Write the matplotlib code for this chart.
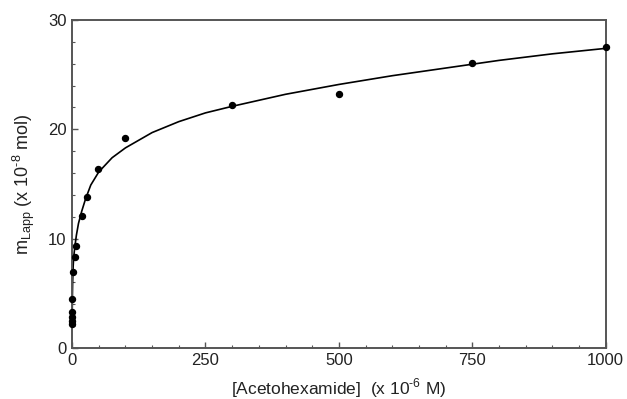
"""
Apparent bound amount vs acetohexamide concentration.
"""
import matplotlib
matplotlib.use('Agg')
import matplotlib.pyplot as plt
from matplotlib.ticker import MultipleLocator

plt.rcParams['font.family'] = ['Liberation Sans', 'DejaVu Sans']
plt.rcParams['mathtext.fontset'] = 'custom'
plt.rcParams['mathtext.rm'] = 'Liberation Sans'

# measured points (x 10^-6 M, x 10^-8 mol)
conc = [0.01, 0.05, 0.1, 0.25, 0.5, 2.5, 5, 8, 18, 27, 49, 100, 300, 500, 750, 1000]
m_lapp = [2.2, 2.5, 2.8, 3.3, 4.5, 6.9, 8.3, 9.3, 12.1, 13.8, 16.4, 19.2, 22.2, 23.2, 26.1, 27.5]

# fitted curve
fit_x = [0, 0.5, 1, 2, 3, 5, 8, 12, 18, 25, 35, 50, 75, 100, 150, 200, 250, 300,
         400, 500, 600, 700, 800, 900, 1000]
fit_y = [2.0, 4.6, 6.0, 7.5, 8.3, 9.2, 10.3, 11.4, 12.5, 13.6, 14.9, 16.1, 17.4, 18.3,
         19.7, 20.7, 21.5, 22.1, 23.2, 24.1, 24.9, 25.6, 26.3, 26.9, 27.4]

fig = plt.figure(figsize=(6.27, 3.99), dpi=100)
ax = fig.add_axes([0.115, 0.128, 0.851, 0.822])

ax.plot(fit_x, fit_y, color='black', lw=1.2)
ax.plot(conc, m_lapp, 'o', color='black', ms=4.3, clip_on=False, zorder=3)

ax.set_xlim(0, 1000)
ax.set_ylim(0, 30)
ax.xaxis.set_major_locator(MultipleLocator(250))
ax.xaxis.set_minor_locator(MultipleLocator(50))
ax.yaxis.set_major_locator(MultipleLocator(10))
ax.yaxis.set_minor_locator(MultipleLocator(2))
ax.tick_params(which='both', direction='in', top=False, right=False,
               color='#555555', labelsize=12, labelcolor='#222222', pad=4)
ax.tick_params(which='major', length=4, width=1)
ax.tick_params(which='minor', length=2, width=0.8)
for s in ax.spines.values():
    s.set_color('#555555')
    s.set_linewidth(1.4)

hy = '\u2010'
ax.set_xlabel('[Acetohexamide]  (x 10$^{\\mathregular{' + hy + '6}}$ M)', fontsize=12.5,
              color='#222222', labelpad=6)
ax.set_ylabel('m$_{\\mathregular{Lapp}}$ (x 10$^{\\mathregular{' + hy + '8}}$ mol)', fontsize=13,
              color='#222222', labelpad=8)

fig.savefig('out.png', dpi=100)
